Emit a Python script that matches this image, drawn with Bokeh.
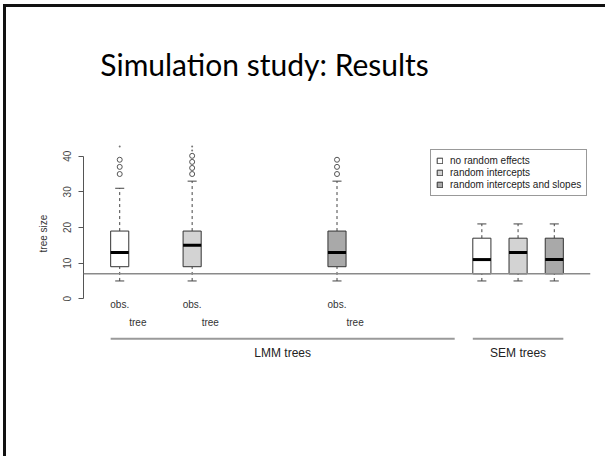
from bokeh.plotting import figure
from bokeh.models import (ColumnDataSource, Span, FixedTicker, Legend, LegendItem, Label, Range1d)
from bokeh.core.properties import value
from bokeh.embed import file_html
from bokeh.resources import INLINE

# ---- data ----
positions = [1, 2, 4, 6, 6.5, 7]
model = [0, 1, 2, 0, 1, 2]          # 0 no random effects, 1 random intercepts, 2 intercepts+slopes
whisker_low = [5, 5, 5, 5, 5, 5]
q1 = [9, 9, 9, 7, 7, 7]
median = [13, 15, 13, 11, 13, 11]
q3 = [19, 19, 19, 17, 17, 17]
whisker_high = [31, 33, 33, 21, 21, 21]
outlier_pos = [1, 1, 1, 2, 2, 2, 2, 4, 4, 4]
outlier_val = [35, 37, 39, 35, 36.7, 38.4, 40.1, 35, 37, 39]
dot_pos = [1, 2, 2]
dot_val = [42.7, 41.6, 42.7]
reference_line = 7
model_names = ["no random effects", "random intercepts", "random intercepts and slopes"]
model_colors = ["#FFFFFF", "#D3D3D3", "#A9A9A9"]
lmm_positions = [1, 2, 4]
groups = ["LMM trees", "SEM trees"]
group_start = [0.875, 5.875]
group_end = [5.625, 7.125]
y_ticks = [0, 10, 20, 30, 40]

FONT = "Liberation Sans"
BOXW = 0.25

p = figure(width=602, height=452, output_backend="svg", toolbar_location=None,
           x_range=Range1d(0.5, 7.5), y_range=Range1d(-45.08, 81.71),
           x_axis_location=None, min_border_left=77, min_border_right=18,
           min_border_top=0, min_border_bottom=0)
p.styles = {"border-left": "3px solid #111", "border-top": "3px solid #111",
            "margin-left": "3px", "margin-top": "4px"}
p.grid.visible = False
p.outline_line_color = None
p.background_fill_color = "white"
p.border_fill_color = "white"

ax = p.yaxis[0]
ax.bounds = (0, 40)
ax.ticker = FixedTicker(ticks=y_ticks)
ax.minor_tick_line_color = None
ax.major_tick_in = 0
ax.major_tick_out = 5
ax.axis_line_color = "#555555"
ax.major_tick_line_color = "#555555"
ax.major_label_orientation = "vertical"
ax.major_label_text_font = FONT
ax.major_label_text_font_size = "10px"
ax.major_label_text_color = "#444444"
ax.major_label_standoff = 7
ax.axis_label = "tree size"
ax.axis_label_text_font = FONT
ax.axis_label_text_font_style = "normal"
ax.axis_label_text_font_size = "10px"
ax.axis_label_text_color = "#333333"
ax.axis_label_standoff = 12

# whiskers
src = ColumnDataSource(dict(x=positions, lo=whisker_low, q1=q1, med=median, q3=q3, hi=whisker_high,
                            xl=[x - BOXW / 4 for x in positions], xr=[x + BOXW / 4 for x in positions],
                            bl=[x - BOXW / 2 for x in positions], br=[x + BOXW / 2 for x in positions]))
p.segment(x0="x", y0="q3", x1="x", y1="hi", source=src, line_color="#444444", line_dash="3 3", line_width=1)
p.segment(x0="x", y0="lo", x1="x", y1="q1", source=src, line_color="#444444", line_dash="3 3", line_width=1)
p.segment(x0="xl", y0="hi", x1="xr", y1="hi", source=src, line_color="#444444", line_width=1)
p.segment(x0="xl", y0="lo", x1="xr", y1="lo", source=src, line_color="#444444", line_width=1)

items = []
for k in range(3):
    idx = [i for i, m in enumerate(model) if m == k]
    s = ColumnDataSource(dict(x=[positions[i] for i in idx], b=[q1[i] for i in idx], t=[q3[i] for i in idx]))
    r = p.vbar(x="x", bottom="b", top="t", width=BOXW, source=s, fill_color=model_colors[k],
               line_color="#333333", line_width=1)
    items.append(LegendItem(label=model_names[k], renderers=[r]))

p.segment(x0="bl", y0="med", x1="br", y1="med", source=src, line_color="black", line_width=3)

p.scatter(x=outlier_pos, y=outlier_val, size=5, marker="circle", fill_color=None,
          line_color="#555555", line_width=1)
p.scatter(x=dot_pos, y=dot_val, size=2, marker="circle", fill_color="#777777", line_color=None)

p.add_layout(Span(location=reference_line, dimension="width", line_color="#8a8a8a", line_width=1.5))

# labels under the LMM boxes
p.text(x=lmm_positions, y=[-1.6] * len(lmm_positions), text=["obs."] * len(lmm_positions),
       text_font=value(FONT), text_font_size="10px", text_color="#333333",
       text_align="center", text_baseline="middle")
p.text(x=[x + 0.25 for x in lmm_positions], y=[-6.56] * len(lmm_positions), text=["tree"] * len(lmm_positions),
       text_font=value(FONT), text_font_size="10px", text_color="#333333",
       text_align="center", text_baseline="middle")

# group brackets
p.segment(x0=group_start, y0=[-11.2] * 2, x1=group_end, y1=[-11.2] * 2, line_color="#9a9a9a", line_width=2)
p.text(x=[(a + b) / 2 for a, b in zip(group_start, group_end)], y=[-15.1] * 2, text=groups,
       text_font=value(FONT), text_font_size="12px", text_color="#222222",
       text_align="center", text_baseline="middle")

# slide title
p.add_layout(Label(x=3.0, y=65.9, text="Simulation study: Results", text_font="Lato",
                   text_font_size="30px", text_color="black", text_align="center",
                   text_baseline="alphabetic"))

leg = Legend(items=items, location=(347, 263), orientation="vertical")
leg.border_line_color = "#333333"
leg.border_line_width = 1
leg.background_fill_color = "white"
leg.background_fill_alpha = 1
leg.padding = 5
leg.margin = 0
leg.spacing = 1
leg.glyph_width = 7
leg.glyph_height = 7
leg.label_height = 10
leg.label_standoff = 7
leg.label_text_font = FONT
leg.label_text_font_size = "10px"
leg.label_text_color = "#222222"
p.add_layout(leg, "center")

open("out.html", "w").write(file_html(p, INLINE))
